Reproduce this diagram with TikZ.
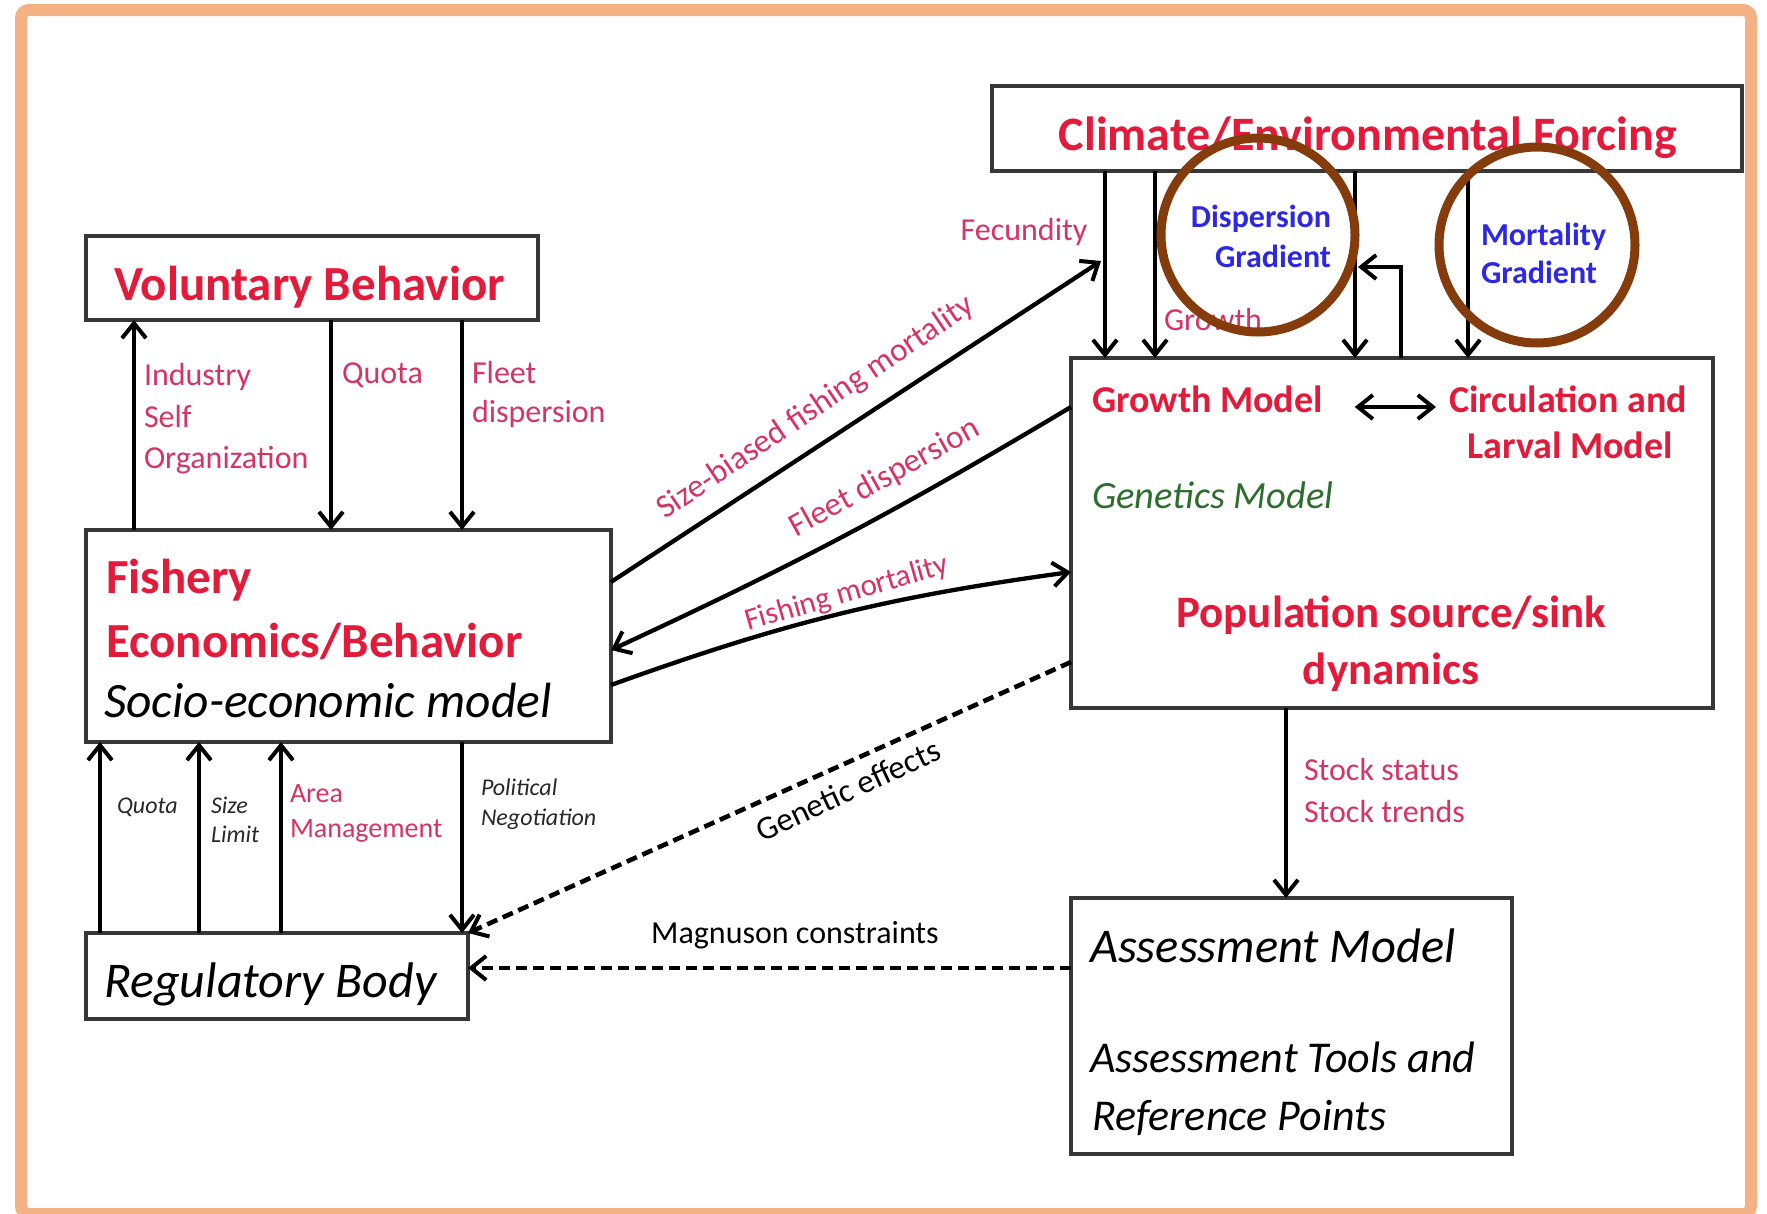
\documentclass[tikz,border=0pt]{standalone}
\usepackage{fontspec}
\setmainfont{Carlito}
\usetikzlibrary{arrows.meta}
\newcommand\fsz[1]{\fontsize{#1}{#1}\selectfont}
\definecolor{frameor}{RGB}{244,177,131}
\definecolor{tred}{RGB}{228,26,58}
\definecolor{lpink}{RGB}{214,52,100}
\definecolor{gblue}{RGB}{45,40,225}
\definecolor{ggreen}{RGB}{45,110,45}
\definecolor{cbrown}{RGB}{132,60,12}
\definecolor{boxline}{RGB}{55,55,55}
\definecolor{smallblk}{RGB}{40,40,40}
\begin{document}
\begin{tikzpicture}[x=1pt,y=-1pt,
  box/.style={draw=boxline, line width=3.2, rectangle, inner sep=0, outer sep=0, anchor=north west},
  txt/.style={inner sep=0, outer sep=0, anchor=base west},
  ttl/.style={txt, text=tred, font={\bfseries\fsz{#1}}},
  ital/.style={txt, text=black, font={\itshape\fsz{#1}}},
  lbl/.style={txt, text=lpink, font={\fsz{#1}}},
  sml/.style={txt, text=smallblk, font={\itshape\fsz{24}}},
  grad/.style={txt, text=gblue, font={\bfseries\fsz{32}}},
  ring/.style={draw=cbrown, line width=9, circle, inner sep=0, minimum size=#1},
  arr/.style={line width=4.3, -{Straight Barb[length=15pt,width=24pt,line width=4pt]}},
  darr/.style={line width=4.3, {Straight Barb[length=15pt,width=24pt,line width=4pt]}-{Straight Barb[length=15pt,width=24pt,line width=4pt]}},
  dsh/.style={arr, line width=4.6, dash pattern=on 11pt off 6pt}
]
\useasboundingbox (0,0) rectangle (1767,1213);
\fill[white] (0,0) rectangle (1767,1213);
\draw[frameor, line width=12, rounded corners=8] (21,10) rectangle (1751,1214);

% boxes
\node[box, minimum width=750, minimum height=85] (clim) at (992,86) {};
\node[box, minimum width=452, minimum height=84] (vol) at (86,236) {};
\node[box, minimum width=525, minimum height=212] (fish) at (86,530) {};
\node[box, minimum width=382, minimum height=86] (reg) at (86,933) {};
\node[box, minimum width=642, minimum height=350] (pop) at (1071,358) {};
\node[box, minimum width=441, minimum height=256] (assess) at (1071,898) {};

% box texts
\node[ttl=48, anchor=base] (climt) at (1368,150) {Climate/Environmental Forcing};
\node[ttl=49] (volt) at (114,300) {Voluntary Behavior};
\node[ttl=49] (fisht1) at (106,593) {Fishery};
\node[ttl=49] (fisht2) at (106,657) {Economics/Behavior};
\node[ital=49.5] (fisht3) at (104,717) {Socio-economic model};
\node[ital=50] (regt) at (104,997) {Regulatory Body};
\node[ttl=38] (gm) at (1092,412) {Growth Model};
\node[ttl=38, anchor=base] (circ) at (1568,412) {Circulation and};
\node[ttl=38, anchor=base] (larv) at (1570,458) {Larval Model};
\node[txt, text=ggreen, font={\itshape\fsz{38.5}}] (gen) at (1092,508) {Genetics Model};
\node[ttl=45, anchor=base] (psd) at (1391,627) {Population source/sink};
\node[ttl=45, anchor=base] (dyn) at (1391,684) {dynamics};
\node[ital=48.5] (as1) at (1090,962) {Assessment Model};
\node[ital=44] (as2) at (1090,1072) {Assessment Tools and};
\node[ital=44] (as3) at (1092,1130) {Reference Points};

% labels
\node[lbl=32] (ind1) at (144,385) {Industry};
\node[lbl=32] (ind2) at (144,427) {Self};
\node[lbl=32] (ind3) at (144,468) {Organization};
\node[lbl=32] (quo) at (342,383) {Quota};
\node[lbl=32] (fl1) at (472,383) {Fleet};
\node[lbl=32] (fl2) at (472,422) {dispersion};
\node[sml] (q2) at (117,813) {Quota};
\node[sml] (sz1) at (211,813) {Size};
\node[sml] (sz2) at (211,842) {Limit};
\node[lbl=28] (ar1) at (290,802) {Area};
\node[lbl=28] (ar2) at (290,837) {Management};
\node[sml] (po1) at (481,795) {Political};
\node[sml] (po2) at (481,825) {Negotiation};
\node[lbl=32, anchor=center] (fec) at (1024,232) {Fecundity};
\node[lbl=32] (grw) at (1164,330) {Growth};
\node[grad, anchor=base east] (dg1) at (1331,227) {Dispersion};
\node[grad, anchor=base east] (dg2) at (1331,267) {Gradient};
\node[grad] (mg1) at (1481,245) {Mortality};
\node[grad] (mg2) at (1481,283) {Gradient};
\node[lbl=32] (ss1) at (1304,780) {Stock status};
\node[lbl=32] (ss2) at (1304,822) {Stock trends};
\node[txt, anchor=center, font={\fsz{32}}] (mag) at (795,935) {Magnuson constraints};
\node[txt, anchor=center, font={\fsz{33}}, rotate=25] (genf) at (848,790) {Genetic effects};
\node[lbl=33, anchor=center, rotate=34] (sbf) at (816,408) {Size-biased fishing mortality};
\node[lbl=33, anchor=center, rotate=29] (fdl) at (885,478) {Fleet dispersion};
\node[lbl=31, anchor=center, rotate=16] (fml) at (847,594) {Fishing mortality};

% vertical connectors around fishery
\draw[arr] ([xshift=48pt]fish.north west) -- ([xshift=48pt]vol.south west);
\draw[arr] ([xshift=245pt]vol.south west) -- ([xshift=245pt]fish.north west);
\draw[arr] ([xshift=376pt]vol.south west) -- ([xshift=376pt]fish.north west);
\draw[arr] ([xshift=14pt]reg.north west) -- ([xshift=14pt]fish.south west);
\draw[arr] ([xshift=113pt]reg.north west) -- ([xshift=113pt]fish.south west);
\draw[arr] ([xshift=195pt]reg.north west) -- ([xshift=195pt]fish.south west);
\draw[arr] ([xshift=376pt]fish.south west) -- ([xshift=376pt]reg.north west);

% climate forcing arrows
\draw[arr] ([xshift=113pt]clim.south west) -- ([xshift=34pt]pop.north west);
\draw[arr] ([xshift=163pt]clim.south west) -- ([xshift=84pt]pop.north west);
\draw[arr] ([xshift=363pt]clim.south west) -- ([xshift=284pt]pop.north west);
\draw[arr] ([xshift=476pt]clim.south west) -- ([xshift=397pt]pop.north west);
\coordinate (fbk) at (1358,267);
\draw[arr] ([xshift=330pt]pop.north west) |- (fbk);
\draw[darr] ([xshift=32pt,yshift=5pt]gm.base east) -- ([xshift=-132pt,yshift=5pt]circ.base);

% diagonal connectors
\coordinate (fecpt) at (1101,261);
\draw[arr] ([yshift=-52pt]fish.north east) -- (fecpt);
\draw[arr] ([yshift=-49pt]pop.north west) to[bend left=3] ([yshift=-120pt]fish.north east);
\draw[arr] ([yshift=-155pt]fish.north east) to[bend left=6] ([yshift=-214pt]pop.north west);
\draw[dsh] ([yshift=-304pt]pop.north west) -- (reg.north east);
\draw[dsh] ([yshift=-70pt]assess.north west) -- ([yshift=-35pt]reg.north east);
\draw[arr] ([xshift=215pt]pop.south west) -- ([xshift=215pt]assess.north west);

% rings
\node[ring=194] (ring1) at (1258,235) {};
\node[ring=196] (ring2) at (1537,245) {};
\end{tikzpicture}
\end{document}
